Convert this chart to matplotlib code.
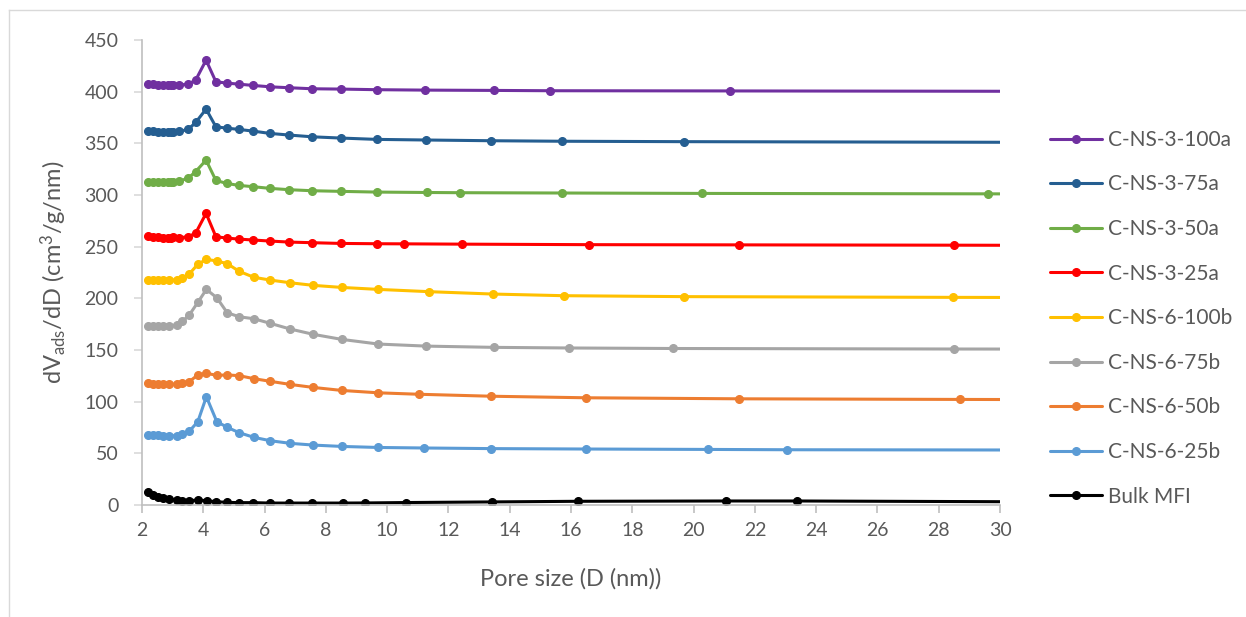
import matplotlib.pyplot as plt
from matplotlib.lines import Line2D

plt.rcParams['font.family'] = ['Lato', 'DejaVu Sans']
plt.rcParams['mathtext.default'] = 'regular'

# pore size grids (nm)
d_a = [2.21, 2.37, 2.53, 2.69, 2.85, 2.95, 3.02, 3.22, 3.51, 3.75, 4.09,
       4.41, 4.76, 5.15, 5.63, 6.17, 6.80, 7.55, 8.48, 9.66]
d_b = [2.21, 2.37, 2.53, 2.69, 2.89, 3.13, 3.32, 3.54, 3.82, 4.10, 4.44,
       4.78, 5.17, 5.65, 6.19, 6.84, 7.59, 8.52, 9.71]
d_bulk = [2.21, 2.37, 2.53, 2.69, 2.89, 3.13, 3.32, 3.54, 3.82, 4.11, 4.41,
          4.76, 5.15, 5.63, 6.17, 6.80, 7.56, 8.55, 9.28, 10.62, 13.43,
          16.22, 21.06, 23.36, 32.0]

# dV/dD values (cm3/g/nm)
ns3_100a = [407.1, 407.1, 406.8, 406.8, 406.5, 406.5, 406.8, 406.5, 407.4, 411.3,
            430.6, 409.7, 408.4, 407.4, 406.1, 404.8, 403.9, 402.9, 402.6, 402.0,
            401.6, 401.3, 401.0, 400.8, 400.4]
ns3_75a = [361.9, 361.6, 361.3, 361.3, 361.3, 361.0, 361.3, 361.6, 363.6, 370.3,
           383.2, 366.1, 364.8, 363.6, 361.9, 359.7, 358.1, 356.4, 355.2, 353.9,
           353.3, 352.6, 352.1, 351.7, 351.0]
ns3_50a = [312.9, 312.6, 312.6, 312.3, 312.3, 312.6, 312.9, 313.5, 316.4, 322.8,
           333.8, 314.2, 311.3, 309.4, 308.1, 306.5, 305.2, 304.2, 303.6, 302.9,
           302.5, 302.3, 302.0, 301.6, 301.2, 301.0]
ns3_25a = [260.3, 259.7, 259.0, 258.7, 258.7, 258.7, 259.0, 258.7, 259.7, 263.2,
           282.3, 259.7, 258.4, 257.4, 256.5, 255.5, 254.5, 253.9, 253.2, 252.9,
           252.8, 252.5, 252.0, 251.8, 251.5, 251.3]
ns6_100b = [217.7, 217.7, 217.7, 217.7, 217.4, 218.1, 219.4, 223.6, 233.0, 237.8,
            236.2, 233.6, 226.2, 220.4, 217.7, 215.1, 212.6, 210.6, 208.7,
            206.5, 204.2, 202.6, 201.7, 201.0, 200.8]
ns6_75b = [173.2, 173.2, 173.2, 173.2, 173.5, 174.2, 177.7, 183.9, 196.1, 208.7,
           200.6, 186.1, 182.2, 180.3, 175.8, 170.3, 165.2, 160.3, 155.8,
           153.8, 152.6, 152.0, 151.5, 151.0, 150.9]
ns6_50b = [117.7, 117.4, 117.1, 117.1, 116.7, 117.1, 117.7, 119.4, 125.9, 127.5,
           125.5, 125.9, 125.2, 122.3, 119.7, 116.7, 113.8, 110.9, 108.6,
           107.2, 105.3, 103.8, 102.8, 102.2, 102.0]
ns6_25b = [68.0, 67.7, 67.4, 67.1, 66.8, 67.1, 68.3, 71.3, 80.7, 104.8,
           80.7, 75.2, 70.0, 65.5, 62.2, 59.7, 58.0, 56.7, 55.7,
           55.2, 54.6, 54.2, 53.8, 53.5, 53.2]
bulk_mfi = [12.9, 9.7, 8.1, 7.1, 5.8, 4.8, 4.2, 4.2, 4.8, 4.2, 3.2, 2.6, 2.3,
            2.3, 1.9, 1.9, 1.9, 1.9, 2.0, 2.4, 3.0, 3.6, 3.9, 3.9, 3.0]

series = [
    ("C-NS-3-100a", d_a + [11.23, 13.48, 15.3, 21.2, 32.0], ns3_100a, "#7030A0"),
    ("C-NS-3-75a", d_a + [11.28, 13.39, 15.7, 19.68, 32.0], ns3_75a, "#255E91"),
    ("C-NS-3-50a", d_a + [11.3, 12.38, 15.7, 20.27, 29.6, 32.0], ns3_50a, "#70AD47"),
    ("C-NS-3-25a", d_a + [10.54, 12.44, 16.57, 21.48, 28.5, 32.0], ns3_25a, "#FF0000"),
    ("C-NS-6-100b", d_b + [11.37, 13.45, 15.77, 19.7, 28.45, 32.0], ns6_100b, "#FFC000"),
    ("C-NS-6-75b", d_b + [11.28, 13.48, 15.93, 19.32, 28.5, 32.0], ns6_75b, "#A5A5A5"),
    ("C-NS-6-50b", d_b + [11.03, 13.39, 16.48, 21.49, 28.69, 32.0], ns6_50b, "#ED7D31"),
    ("C-NS-6-25b", d_b + [11.19, 13.4, 16.48, 20.48, 23.06, 32.0], ns6_25b, "#5B9BD5"),
    ("Bulk MFI", d_bulk, bulk_mfi, "#000000"),
]

fig = plt.figure(figsize=(12.46, 6.17), dpi=100)
ax = fig.add_axes([0.114, 0.1815, 0.6886, 0.7535])

for label, x, y, color in series:
    ax.plot(x, y, color=color, lw=2.2, marker='o', ms=5.5, label=label,
            solid_capstyle='round')

ax.set_xlim(2, 30)
ax.set_ylim(0, 450)
ax.set_xticks(range(2, 31, 2))
ax.set_yticks(range(0, 451, 50))

for side in ('top', 'right'):
    ax.spines[side].set_visible(False)
for side in ('left', 'bottom'):
    ax.spines[side].set_color('#BFBFBF')
    ax.spines[side].set_linewidth(1.2)
ax.tick_params(direction='out', length=6, width=1.2, color='#BFBFBF',
               labelcolor='#595959', labelsize=14, pad=6)
ax.tick_params(axis='y', color='#D9D9D9', pad=11)

ax.set_xlabel('Pore size (D (nm))', fontsize=17, color='#595959', labelpad=21)
ax.set_ylabel(r'dV$_{ads}$/dD (cm$^{3}$/g/nm)', fontsize=17, color='#595959',
              labelpad=11)

fig.legend(loc='upper left', bbox_to_anchor=(0.836, 0.803), frameon=False,
           fontsize=15, labelcolor='#595959', handlelength=2.5,
           handletextpad=0.3, labelspacing=1.18, borderaxespad=0)

# chart area border
fig.add_artist(Line2D([0.007, 0.007], [0.0, 0.984], color='#D9D9D9', lw=1))
fig.add_artist(Line2D([0.007, 1.0], [0.984, 0.984], color='#D9D9D9', lw=1))

fig.savefig('out.png', dpi=100)
